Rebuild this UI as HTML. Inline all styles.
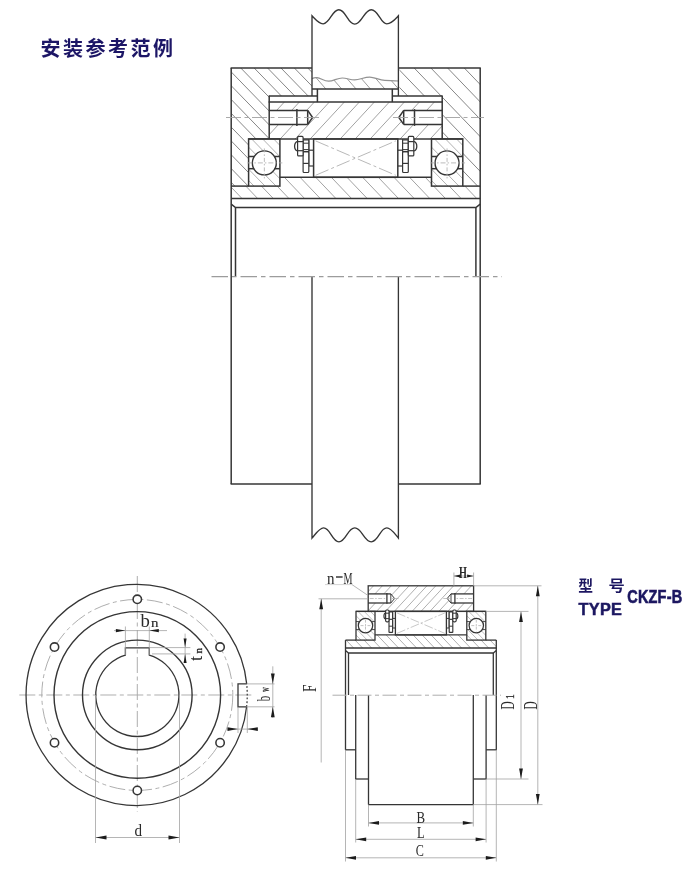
<!DOCTYPE html>
<html lang="zh"><head><meta charset="utf-8"><title>CKZF-B 安装参考范例</title>
<style>
html,body{margin:0;padding:0;background:#fff;}
body{width:700px;height:885px;overflow:hidden;font-family:"Liberation Sans",sans-serif;}
svg{display:block;}
.sr{position:absolute;left:-9999px;top:0;width:1px;height:1px;overflow:hidden;}
</style></head><body>
<h1 class="sr">安装参考范例</h1><p class="sr">型 号 TYPE CKZF-B</p>
<svg width="700" height="885" viewBox="0 0 700 885">
<rect width="700" height="885" fill="#ffffff"/>
<defs><filter id="soft" x="0" y="0" width="700" height="885" filterUnits="userSpaceOnUse"><feGaussianBlur stdDeviation="0.42"/></filter><clipPath id="c1"><path d="M231.2,68.1 L312,68.1 L312,96.1 L269.2,96.1 L269.2,138.9 L248.6,138.9 L248.6,186.1 L231.2,186.1 Z" clip-rule="evenodd"/></clipPath><clipPath id="c2"><path d="M480.2,68.1 L399.4,68.1 L399.4,96.1 L442.2,96.1 L442.2,138.9 L462.8,138.9 L462.8,186.1 L480.2,186.1 Z" clip-rule="evenodd"/></clipPath><clipPath id="c3"><path d="M269.2,102.1 L442.2,102.1 L442.2,138.9 L269.2,138.9 Z M269.2,110.4 L307.7,110.4 L312.6,117.5 L307.7,124.4 L269.2,124.4 Z M442.2,110.4 L403.7,110.4 L398.8,117.5 L403.7,124.4 L442.2,124.4 Z" clip-rule="evenodd"/></clipPath><clipPath id="c4"><path d="M231.2,186.1 L279.9,186.1 L279.9,177.3 L431.5,177.3 L431.5,186.1 L480.2,186.1 L480.2,198.4 L231.2,198.4 Z" clip-rule="evenodd"/></clipPath><clipPath id="c5"><path d="M312,78.6 C314,77.6 315.5,77.4 317,77.6 C321,78.2 324,81.2 328.6,81.2 C333.5,81.2 337,78 342.3,78 C347,78 350,79.9 354.6,79.9 C360,79.9 364,77.1 369.7,77.1 C375,77.1 379,80.3 384.8,80.3 C389,80.3 393,81 398.4,81 L398.4,88.9 L312,88.9 Z"/></clipPath><clipPath id="c6"><path d="M248.6,138.9 L279.9,138.9 L279.9,156.5 L248.6,156.5 Z M252.35,162.9 a12.0,12.0 0 1,0 24.0,0 a12.0,12.0 0 1,0 -24.0,0 Z" clip-rule="evenodd"/></clipPath><clipPath id="c7"><path d="M248.6,168.7 L279.9,168.7 L279.9,186.1 L248.6,186.1 Z M252.35,162.9 a12.0,12.0 0 1,0 24.0,0 a12.0,12.0 0 1,0 -24.0,0 Z" clip-rule="evenodd"/></clipPath><clipPath id="c8"><path d="M431.5,138.9 L462.8,138.9 L462.8,156.5 L431.5,156.5 Z M435.05,162.9 a12.0,12.0 0 1,0 24.0,0 a12.0,12.0 0 1,0 -24.0,0 Z" clip-rule="evenodd"/></clipPath><clipPath id="c9"><path d="M431.5,168.7 L462.8,168.7 L462.8,186.1 L431.5,186.1 Z M435.05,162.9 a12.0,12.0 0 1,0 24.0,0 a12.0,12.0 0 1,0 -24.0,0 Z" clip-rule="evenodd"/></clipPath><clipPath id="c10"><path d="M368.2,585.8 L473.6,585.8 L473.6,611.4 L368.2,611.4 Z M368.2,593.9 L390.8,593.9 L394.6,598.5 L390.8,603 L368.2,603 Z M473.6,593.9 L451,593.9 L447.2,598.5 L451,603 L473.6,603 Z" clip-rule="evenodd"/></clipPath><clipPath id="c11"><path d="M345.5,640.1 L375,640.1 L375,634.9 L466.8,634.9 L466.8,640.1 L496.3,640.1 L496.3,648 L345.5,648 Z" clip-rule="evenodd"/></clipPath><clipPath id="c12"><path d="M356,611.4 L375,611.4 L375,621.6 L356,621.6 Z M358.3,625.6 a7.2,7.2 0 1,0 14.4,0 a7.2,7.2 0 1,0 -14.4,0 Z" clip-rule="evenodd"/></clipPath><clipPath id="c13"><path d="M356,629.6 L375,629.6 L375,640.1 L356,640.1 Z M358.3,625.6 a7.2,7.2 0 1,0 14.4,0 a7.2,7.2 0 1,0 -14.4,0 Z" clip-rule="evenodd"/></clipPath><clipPath id="c14"><path d="M466.8,611.4 L485.8,611.4 L485.8,621.6 L466.8,621.6 Z M469.1,625.6 a7.2,7.2 0 1,0 14.4,0 a7.2,7.2 0 1,0 -14.4,0 Z" clip-rule="evenodd"/></clipPath><clipPath id="c15"><path d="M466.8,629.6 L485.8,629.6 L485.8,640.1 L466.8,640.1 Z M469.1,625.6 a7.2,7.2 0 1,0 14.4,0 a7.2,7.2 0 1,0 -14.4,0 Z" clip-rule="evenodd"/></clipPath></defs>
<g stroke-linecap="butt" stroke-linejoin="miter" filter="url(#soft)">
<path clip-path="url(#c1)" d="M119.33,67.1L235.83,187.1M132.73,67.1L249.23,187.1M146.13,67.1L262.63,187.1M159.53,67.1L276.03,187.1M172.93,67.1L289.43,187.1M186.33,67.1L302.83,187.1M199.73,67.1L316.23,187.1M213.13,67.1L329.63,187.1M226.53,67.1L343.03,187.1M239.93,67.1L356.43,187.1M253.33,67.1L369.83,187.1M266.73,67.1L383.23,187.1M280.13,67.1L396.63,187.1M293.53,67.1L410.03,187.1M306.93,67.1L423.43,187.1" stroke="#787878" stroke-width="0.9" fill="none"/>
<path clip-path="url(#c2)" d="M296.44,67.1L411.82,187.1M313.14,67.1L428.52,187.1M329.84,67.1L445.22,187.1M346.54,67.1L461.92,187.1M363.24,67.1L478.62,187.1M379.94,67.1L495.32,187.1M396.64,67.1L512.02,187.1M413.34,67.1L528.72,187.1M430.04,67.1L545.42,187.1M446.74,67.1L562.12,187.1M463.44,67.1L578.82,187.1M480.14,67.1L595.52,187.1" stroke="#787878" stroke-width="0.9" fill="none"/>
<path clip-path="url(#c3)" d="M270.23,101.1L234.3,139.9M285.23,101.1L249.3,139.9M300.23,101.1L264.3,139.9M315.23,101.1L279.3,139.9M330.23,101.1L294.3,139.9M345.23,101.1L309.3,139.9M360.23,101.1L324.3,139.9M375.23,101.1L339.3,139.9M390.23,101.1L354.3,139.9M405.23,101.1L369.3,139.9M420.23,101.1L384.3,139.9M435.23,101.1L399.3,139.9M450.23,101.1L414.3,139.9M465.23,101.1L429.3,139.9" stroke="#a2a2a2" stroke-width="1.0" fill="none"/>
<path clip-path="url(#c4)" d="M220.85,176.3L242.85,199.4M236.5,176.3L258.5,199.4M252.15,176.3L274.15,199.4M267.8,176.3L289.8,199.4M283.45,176.3L305.45,199.4M299.1,176.3L321.1,199.4M314.75,176.3L336.75,199.4M330.4,176.3L352.4,199.4M346.05,176.3L368.05,199.4M361.7,176.3L383.7,199.4M377.35,176.3L399.35,199.4M393,176.3L415,199.4M408.65,176.3L430.65,199.4M424.3,176.3L446.3,199.4M439.95,176.3L461.95,199.4M455.6,176.3L477.6,199.4M471.25,176.3L493.25,199.4" stroke="#a2a2a2" stroke-width="1.0" fill="none"/>
<path clip-path="url(#c5)" d="M299.33,74.9L311.5,88.9M313.63,74.9L325.8,88.9M329.43,74.9L341.6,88.9M343.83,74.9L356,88.9M358.23,74.9L370.4,88.9M372.63,74.9L384.8,88.9M386.33,74.9L398.5,88.9M399.83,74.9L412,88.9" stroke="#9c9c9c" stroke-width="1.0" fill="none"/>
<path d="M312,78.6 C314,77.6 315.5,77.4 317,77.6 C321,78.2 324,81.2 328.6,81.2 C333.5,81.2 337,78 342.3,78 C347,78 350,79.9 354.6,79.9 C360,79.9 364,77.1 369.7,77.1 C375,77.1 379,80.3 384.8,80.3 C389,80.3 393,81 398.4,81" stroke="#929292" stroke-width="1.2" fill="none"/>
<path clip-path="url(#c6)" d="M228.63,137.9L247.66,157.5M239.63,137.9L258.66,157.5M250.63,137.9L269.66,157.5M261.63,137.9L280.66,157.5M272.63,137.9L291.66,157.5" stroke="#a8a8a8" stroke-width="0.9" fill="none"/>
<path clip-path="url(#c7)" d="M236.19,167.7L255.02,187.1M247.19,167.7L266.02,187.1M258.19,167.7L277.02,187.1M269.19,167.7L288.02,187.1M280.19,167.7L299.02,187.1" stroke="#a8a8a8" stroke-width="0.9" fill="none"/>
<rect x="248.6" y="138.9" width="31.3" height="47.2" stroke="#363636" stroke-width="1.5" fill="none"/>
<circle cx="264.35" cy="162.9" r="12" stroke="#363636" stroke-width="1.4" fill="#fff"/>
<line x1="248.6" y1="156.5" x2="254.2" y2="156.5" stroke="#363636" stroke-width="1.5"/>
<line x1="274.5" y1="156.5" x2="279.9" y2="156.5" stroke="#363636" stroke-width="1.5"/>
<line x1="248.6" y1="168.7" x2="254.2" y2="168.7" stroke="#363636" stroke-width="1.5"/>
<line x1="274.5" y1="168.7" x2="279.9" y2="168.7" stroke="#363636" stroke-width="1.5"/>
<line x1="247.35" y1="162.9" x2="282.35" y2="162.9" stroke="#aaa" stroke-width="0.8" stroke-dasharray="5 2 1.5 2"/>
<line x1="264.35" y1="148.4" x2="264.35" y2="178.4" stroke="#aaa" stroke-width="0.8" stroke-dasharray="4 2 1.5 2"/>
<path clip-path="url(#c8)" d="M411.53,137.9L430.56,157.5M422.53,137.9L441.56,157.5M433.53,137.9L452.56,157.5M444.53,137.9L463.56,157.5M455.53,137.9L474.56,157.5" stroke="#a8a8a8" stroke-width="0.9" fill="none"/>
<path clip-path="url(#c9)" d="M419.09,167.7L437.92,187.1M430.09,167.7L448.92,187.1M441.09,167.7L459.92,187.1M452.09,167.7L470.92,187.1M463.09,167.7L481.92,187.1" stroke="#a8a8a8" stroke-width="0.9" fill="none"/>
<rect x="431.5" y="138.9" width="31.3" height="47.2" stroke="#363636" stroke-width="1.5" fill="none"/>
<circle cx="447.05" cy="162.9" r="12" stroke="#363636" stroke-width="1.4" fill="#fff"/>
<line x1="431.5" y1="156.5" x2="436.9" y2="156.5" stroke="#363636" stroke-width="1.5"/>
<line x1="457.2" y1="156.5" x2="462.8" y2="156.5" stroke="#363636" stroke-width="1.5"/>
<line x1="431.5" y1="168.7" x2="436.9" y2="168.7" stroke="#363636" stroke-width="1.5"/>
<line x1="457.2" y1="168.7" x2="462.8" y2="168.7" stroke="#363636" stroke-width="1.5"/>
<line x1="430.05" y1="162.9" x2="465.05" y2="162.9" stroke="#aaa" stroke-width="0.8" stroke-dasharray="5 2 1.5 2"/>
<line x1="447.05" y1="148.4" x2="447.05" y2="178.4" stroke="#aaa" stroke-width="0.8" stroke-dasharray="4 2 1.5 2"/>
<line x1="231.2" y1="68.1" x2="231.2" y2="484" stroke="#363636" stroke-width="1.5"/>
<line x1="480.2" y1="68.1" x2="480.2" y2="484" stroke="#363636" stroke-width="1.5"/>
<line x1="230.6" y1="68.1" x2="312" y2="68.1" stroke="#363636" stroke-width="1.5"/>
<line x1="398.4" y1="68.1" x2="480.8" y2="68.1" stroke="#363636" stroke-width="1.5"/>
<line x1="230.6" y1="484" x2="312" y2="484" stroke="#363636" stroke-width="1.5"/>
<line x1="398.4" y1="484" x2="480.8" y2="484" stroke="#363636" stroke-width="1.5"/>
<path d="M312.0,96.1 L312.0,15.8 C316,20 319,24 323.2,23.8 C330,23.5 332,9.7 338.8,9.7 C346,9.7 347.5,24.1 354.8,24.1 C362,24.1 364,9.7 371.3,9.7 C378.5,9.7 380.5,23.8 386.8,23.8 C391.5,23.8 394.5,20 398.4,15.8 L398.4,96.1" stroke="#363636" stroke-width="1.35" fill="none"/>
<path d="M312.0,276.4 L312.0,538.1 C316,533.5 319.5,527.9 323.6,527.9 C330.5,527.9 332,541.8 338.9,541.8 C346,541.8 347.5,527.9 354.8,527.9 C362,527.9 364,541.8 371.3,541.8 C378.5,541.8 380,527.9 386.8,527.9 C391,527.9 394.5,533.5 398.4,538.1 L398.4,276.4" stroke="#363636" stroke-width="1.35" fill="none"/>
<line x1="312" y1="88.9" x2="398.4" y2="88.9" stroke="#363636" stroke-width="1.5"/>
<line x1="317.4" y1="88.9" x2="317.4" y2="102.1" stroke="#363636" stroke-width="1.5"/>
<line x1="392.3" y1="88.9" x2="392.3" y2="102.1" stroke="#363636" stroke-width="1.5"/>
<line x1="269.2" y1="96.1" x2="317.4" y2="96.1" stroke="#363636" stroke-width="1.5"/>
<line x1="392.3" y1="96.1" x2="442.2" y2="96.1" stroke="#363636" stroke-width="1.5"/>
<line x1="268.6" y1="102.1" x2="442.8" y2="102.1" stroke="#363636" stroke-width="1.5"/>
<line x1="269.2" y1="95.5" x2="269.2" y2="138.9" stroke="#363636" stroke-width="1.5"/>
<line x1="442.2" y1="95.5" x2="442.2" y2="138.9" stroke="#363636" stroke-width="1.5"/>
<line x1="248.6" y1="138.9" x2="462.8" y2="138.9" stroke="#363636" stroke-width="1.5"/>
<line x1="269.2" y1="110.4" x2="307.7" y2="110.4" stroke="#363636" stroke-width="1.5"/>
<line x1="269.2" y1="124.4" x2="307.7" y2="124.4" stroke="#363636" stroke-width="1.5"/>
<line x1="296.9" y1="109.1" x2="296.9" y2="125.9" stroke="#363636" stroke-width="1.5"/>
<line x1="307.7" y1="110.4" x2="307.7" y2="124.4" stroke="#363636" stroke-width="1.5"/>
<path d="M307.7,110.4 L312.6,117.5 L307.7,124.4" stroke="#363636" stroke-width="1.5" fill="none"/>
<line x1="442.2" y1="110.4" x2="403.7" y2="110.4" stroke="#363636" stroke-width="1.5"/>
<line x1="442.2" y1="124.4" x2="403.7" y2="124.4" stroke="#363636" stroke-width="1.5"/>
<line x1="414.5" y1="109.1" x2="414.5" y2="125.9" stroke="#363636" stroke-width="1.5"/>
<line x1="403.7" y1="110.4" x2="403.7" y2="124.4" stroke="#363636" stroke-width="1.5"/>
<path d="M403.7,110.4 L398.8,117.5 L403.7,124.4" stroke="#363636" stroke-width="1.5" fill="none"/>
<line x1="226" y1="117.5" x2="319" y2="117.5" stroke="#a0a0a0" stroke-width="0.9" stroke-dasharray="15 3.5 4 3.5"/>
<line x1="393" y1="117.5" x2="484" y2="117.5" stroke="#a0a0a0" stroke-width="0.9" stroke-dasharray="15 3.5 4 3.5"/>
<rect x="313.6" y="138.9" width="84.2" height="38.4" stroke="#363636" stroke-width="1.5" fill="none"/>
<line x1="315.6" y1="140.9" x2="395.8" y2="175.3" stroke="#a6a6a6" stroke-width="0.8" stroke-dasharray="14 3 3 3"/>
<line x1="315.6" y1="175.3" x2="395.8" y2="140.9" stroke="#a6a6a6" stroke-width="0.8" stroke-dasharray="14 3 3 3"/>
<line x1="279.9" y1="177.3" x2="431.5" y2="177.3" stroke="#363636" stroke-width="1.5"/>
<line x1="231.2" y1="186.1" x2="248.6" y2="186.1" stroke="#363636" stroke-width="1.5"/>
<line x1="462.8" y1="186.1" x2="480.2" y2="186.1" stroke="#363636" stroke-width="1.5"/>
<line x1="231.2" y1="198.4" x2="480.2" y2="198.4" stroke="#363636" stroke-width="1.5"/>
<path d="M231.2,204.1 L235.5,207.6 L475.9,207.6 L480.2,204.1" stroke="#363636" stroke-width="1.5" fill="none"/>
<line x1="235.5" y1="207.6" x2="235.5" y2="276.4" stroke="#363636" stroke-width="1.5"/>
<line x1="475.9" y1="207.6" x2="475.9" y2="276.4" stroke="#363636" stroke-width="1.5"/>
<line x1="308.8" y1="138.9" x2="308.8" y2="166" stroke="#363636" stroke-width="1.2"/>
<line x1="308.8" y1="150.2" x2="313.6" y2="150.2" stroke="#363636" stroke-width="1.2"/>
<line x1="308.8" y1="166" x2="313.6" y2="166" stroke="#363636" stroke-width="1.2"/>
<rect x="303.1" y="151.7" width="5.7" height="20.8" rx="1.0" stroke="#363636" stroke-width="1.2" fill="#fff"/>
<line x1="303.1" y1="163.4" x2="308.8" y2="163.4" stroke="#363636" stroke-width="1.2"/>
<rect x="303.1" y="139.8" width="5.7" height="11.9" rx="0.6" stroke="#363636" stroke-width="1.2" fill="#fff"/>
<line x1="303.1" y1="143.2" x2="308.8" y2="143.2" stroke="#363636" stroke-width="1.0"/>
<line x1="303.1" y1="149.6" x2="308.8" y2="149.6" stroke="#363636" stroke-width="1.0"/>
<rect x="297.6" y="136.4" width="5.5" height="19.5" rx="1.0" stroke="#363636" stroke-width="1.2" fill="#fff"/>
<line x1="297.6" y1="141.6" x2="303.1" y2="141.6" stroke="#363636" stroke-width="1.2"/>
<line x1="297.6" y1="150.7" x2="303.1" y2="150.7" stroke="#363636" stroke-width="1.2"/>
<path d="M297.6,141.3 C293.6,142.6 293.6,149.8 297.6,151.0" stroke="#363636" stroke-width="1.3" fill="none"/>
<line x1="402.6" y1="138.9" x2="402.6" y2="166" stroke="#363636" stroke-width="1.2"/>
<line x1="402.6" y1="150.2" x2="397.8" y2="150.2" stroke="#363636" stroke-width="1.2"/>
<line x1="402.6" y1="166" x2="397.8" y2="166" stroke="#363636" stroke-width="1.2"/>
<rect x="402.6" y="151.7" width="5.7" height="20.8" rx="1.0" stroke="#363636" stroke-width="1.2" fill="#fff"/>
<line x1="408.3" y1="163.4" x2="402.6" y2="163.4" stroke="#363636" stroke-width="1.2"/>
<rect x="402.6" y="139.8" width="5.7" height="11.9" rx="0.6" stroke="#363636" stroke-width="1.2" fill="#fff"/>
<line x1="408.3" y1="143.2" x2="402.6" y2="143.2" stroke="#363636" stroke-width="1.0"/>
<line x1="408.3" y1="149.6" x2="402.6" y2="149.6" stroke="#363636" stroke-width="1.0"/>
<rect x="408.3" y="136.4" width="5.5" height="19.5" rx="1.0" stroke="#363636" stroke-width="1.2" fill="#fff"/>
<line x1="413.8" y1="141.6" x2="408.3" y2="141.6" stroke="#363636" stroke-width="1.2"/>
<line x1="413.8" y1="150.7" x2="408.3" y2="150.7" stroke="#363636" stroke-width="1.2"/>
<path d="M413.8,141.3 C417.8,142.6 417.8,149.8 413.8,151.0" stroke="#363636" stroke-width="1.3" fill="none"/>
<line x1="211.5" y1="276.6" x2="502" y2="276.6" stroke="#9c9c9c" stroke-width="1.2" stroke-dasharray="16.5 4 4.5 4"/>
<line x1="19.3" y1="695" x2="252" y2="695" stroke="#aaaaaa" stroke-width="0.95" stroke-dasharray="16 3.5 4 3.5"/>
<line x1="137.3" y1="576" x2="137.3" y2="812" stroke="#aaaaaa" stroke-width="0.95" stroke-dasharray="16 3.5 4 3.5"/>
<circle cx="137.3" cy="694.9" r="95.5" stroke="#aaaaaa" stroke-width="0.95" fill="none" stroke-dasharray="16 3.5 4 3.5"/>
<path d="M246.61,706.8 A110.6,110.6 0 1,1 246.7,683.9" stroke="#363636" stroke-width="1.3" fill="none"/>
<path d="M246.7,683.9 L238,683.9 L238,706.8 L246.61,706.8" stroke="#363636" stroke-width="1.3" fill="none"/>
<path d="M246.7,683.9 A110.6,110.6 0 0,1 246.61,706.8" stroke="#444" stroke-width="1.3" fill="none" stroke-dasharray="1.8 2" stroke-dashoffset="-2.2"/>
<circle cx="137.3" cy="694.9" r="83.3" stroke="#363636" stroke-width="1.4" fill="none"/>
<circle cx="137.3" cy="694.9" r="54.8" stroke="#363636" stroke-width="1.4" fill="none"/>
<path d="M125.4,655.04 L125.4,647.8 L149.3,647.8 L149.3,655.04 A41.6,41.6 0 1,1 125.4,655.04 Z" stroke="#363636" stroke-width="1.3" fill="none"/>
<circle cx="137.3" cy="599.3" r="4.2" stroke="#363636" stroke-width="1.55" fill="#fff"/>
<circle cx="54.51" cy="647.1" r="4.2" stroke="#363636" stroke-width="1.55" fill="#fff"/>
<circle cx="54.51" cy="742.7" r="4.2" stroke="#363636" stroke-width="1.55" fill="#fff"/>
<circle cx="137.3" cy="790.5" r="4.2" stroke="#363636" stroke-width="1.55" fill="#fff"/>
<circle cx="220.09" cy="742.7" r="4.2" stroke="#363636" stroke-width="1.55" fill="#fff"/>
<circle cx="220.09" cy="647.1" r="4.2" stroke="#363636" stroke-width="1.55" fill="#fff"/>
<line x1="125.4" y1="655.04" x2="125.4" y2="626.5" stroke="#a2a2a2" stroke-width="0.8"/>
<line x1="149.3" y1="655.04" x2="149.3" y2="626.5" stroke="#a2a2a2" stroke-width="0.8"/>
<line x1="114" y1="630.6" x2="167" y2="630.6" stroke="#a2a2a2" stroke-width="0.8"/>
<polygon points="125.4,630.6 115.9,632.3 115.9,628.9" fill="#1c1c1c"/>
<polygon points="149.3,630.6 158.8,628.9 158.8,632.3" fill="#1c1c1c"/>
<line x1="149.3" y1="647.6" x2="190.4" y2="647.6" stroke="#a2a2a2" stroke-width="0.8"/>
<line x1="152" y1="653.9" x2="190.4" y2="653.9" stroke="#a2a2a2" stroke-width="0.8"/>
<line x1="185.1" y1="633.6" x2="185.1" y2="663" stroke="#a2a2a2" stroke-width="0.8"/>
<polygon points="185.1,647.6 183.6,638.6 186.6,638.6" fill="#1c1c1c"/>
<polygon points="185.1,653.9 186.6,662.9 183.6,662.9" fill="#1c1c1c"/>
<line x1="246.7" y1="683.9" x2="274.5" y2="683.9" stroke="#a2a2a2" stroke-width="0.8"/>
<line x1="246.61" y1="706.8" x2="274.5" y2="706.8" stroke="#a2a2a2" stroke-width="0.8"/>
<line x1="272.8" y1="666.3" x2="272.8" y2="718" stroke="#a2a2a2" stroke-width="0.8"/>
<polygon points="272.8,683.9 270.9,673.4 274.7,673.4" fill="#1c1c1c"/>
<polygon points="272.8,706.8 274.7,717.3 270.9,717.3" fill="#1c1c1c"/>
<line x1="238" y1="706.8" x2="238" y2="733" stroke="#a2a2a2" stroke-width="0.8"/>
<line x1="247.3" y1="706.8" x2="247.3" y2="733" stroke="#a2a2a2" stroke-width="0.8"/>
<line x1="227" y1="729.1" x2="258" y2="729.1" stroke="#a2a2a2" stroke-width="0.8"/>
<polygon points="238,729.1 227.5,731 227.5,727.2" fill="#1c1c1c"/>
<polygon points="247.3,729.1 257.8,727.2 257.8,731" fill="#1c1c1c"/>
<line x1="95.5" y1="694.9" x2="95.5" y2="843" stroke="#a2a2a2" stroke-width="0.8"/>
<line x1="179.5" y1="694.9" x2="179.5" y2="843" stroke="#a2a2a2" stroke-width="0.8"/>
<line x1="95.5" y1="837.5" x2="179.5" y2="837.5" stroke="#a2a2a2" stroke-width="0.8"/>
<polygon points="95.5,837.5 106.5,835.6 106.5,839.4" fill="#1c1c1c"/>
<polygon points="179.5,837.5 168.5,839.4 168.5,835.6" fill="#1c1c1c"/>
<path clip-path="url(#c10)" d="M374.43,584.8L348.87,612.4M383.33,584.8L357.77,612.4M392.23,584.8L366.67,612.4M401.13,584.8L375.57,612.4M410.03,584.8L384.47,612.4M418.93,584.8L393.37,612.4M427.83,584.8L402.27,612.4M436.73,584.8L411.17,612.4M445.63,584.8L420.07,612.4M454.53,584.8L428.97,612.4M463.43,584.8L437.87,612.4M472.33,584.8L446.77,612.4M481.23,584.8L455.67,612.4M490.13,584.8L464.57,612.4M499.03,584.8L473.47,612.4" stroke="#b0b0b0" stroke-width="1.0" fill="none"/>
<path clip-path="url(#c11)" d="M331.17,633.9L345.55,649M340.17,633.9L354.55,649M349.17,633.9L363.55,649M358.17,633.9L372.55,649M367.17,633.9L381.55,649M376.17,633.9L390.55,649M385.17,633.9L399.55,649M394.17,633.9L408.55,649M403.17,633.9L417.55,649M412.17,633.9L426.55,649M421.17,633.9L435.55,649M430.17,633.9L444.55,649M439.17,633.9L453.55,649M448.17,633.9L462.55,649M457.17,633.9L471.55,649M466.17,633.9L480.55,649M475.17,633.9L489.55,649M484.17,633.9L498.55,649M493.17,633.9L507.55,649" stroke="#b0b0b0" stroke-width="1.0" fill="none"/>
<path clip-path="url(#c12)" d="M344.63,610.4L356.47,622.6M350.83,610.4L362.67,622.6M357.03,610.4L368.87,622.6M363.23,610.4L375.07,622.6M369.43,610.4L381.27,622.6M375.63,610.4L387.47,622.6" stroke="#b8b8b8" stroke-width="0.9" fill="none"/>
<path clip-path="url(#c13)" d="M343.63,628.6L355.77,641.1M349.83,628.6L361.97,641.1M356.03,628.6L368.17,641.1M362.23,628.6L374.37,641.1M368.43,628.6L380.57,641.1M374.63,628.6L386.77,641.1" stroke="#b8b8b8" stroke-width="0.9" fill="none"/>
<rect x="356" y="611.4" width="19" height="28.7" stroke="#363636" stroke-width="1.3" fill="none"/>
<circle cx="365.5" cy="625.6" r="7.2" stroke="#363636" stroke-width="1.25" fill="#fff"/>
<line x1="356" y1="621.6" x2="359.51" y2="621.6" stroke="#363636" stroke-width="0.9"/>
<line x1="371.49" y1="621.6" x2="375" y2="621.6" stroke="#363636" stroke-width="0.9"/>
<line x1="356" y1="629.6" x2="359.51" y2="629.6" stroke="#363636" stroke-width="0.9"/>
<line x1="371.49" y1="629.6" x2="375" y2="629.6" stroke="#363636" stroke-width="0.9"/>
<line x1="360.5" y1="625.6" x2="370.5" y2="625.6" stroke="#aaa" stroke-width="0.7" stroke-dasharray="3 1.5 1 1.5"/>
<line x1="365.5" y1="619.6" x2="365.5" y2="631.6" stroke="#aaa" stroke-width="0.7" stroke-dasharray="3 1.5 1 1.5"/>
<path clip-path="url(#c14)" d="M455.43,610.4L467.27,622.6M461.63,610.4L473.47,622.6M467.83,610.4L479.67,622.6M474.03,610.4L485.87,622.6M480.23,610.4L492.07,622.6M486.43,610.4L498.27,622.6" stroke="#b8b8b8" stroke-width="0.9" fill="none"/>
<path clip-path="url(#c15)" d="M454.43,628.6L466.57,641.1M460.63,628.6L472.77,641.1M466.83,628.6L478.97,641.1M473.03,628.6L485.17,641.1M479.23,628.6L491.37,641.1M485.43,628.6L497.57,641.1" stroke="#b8b8b8" stroke-width="0.9" fill="none"/>
<rect x="466.8" y="611.4" width="19" height="28.7" stroke="#363636" stroke-width="1.3" fill="none"/>
<circle cx="476.3" cy="625.6" r="7.2" stroke="#363636" stroke-width="1.25" fill="#fff"/>
<line x1="466.8" y1="621.6" x2="470.31" y2="621.6" stroke="#363636" stroke-width="0.9"/>
<line x1="482.29" y1="621.6" x2="485.8" y2="621.6" stroke="#363636" stroke-width="0.9"/>
<line x1="466.8" y1="629.6" x2="470.31" y2="629.6" stroke="#363636" stroke-width="0.9"/>
<line x1="482.29" y1="629.6" x2="485.8" y2="629.6" stroke="#363636" stroke-width="0.9"/>
<line x1="471.3" y1="625.6" x2="481.3" y2="625.6" stroke="#aaa" stroke-width="0.7" stroke-dasharray="3 1.5 1 1.5"/>
<line x1="476.3" y1="619.6" x2="476.3" y2="631.6" stroke="#aaa" stroke-width="0.7" stroke-dasharray="3 1.5 1 1.5"/>
<rect x="368.2" y="585.8" width="105.4" height="25.6" stroke="#363636" stroke-width="1.3" fill="none"/>
<line x1="356" y1="611.4" x2="485.8" y2="611.4" stroke="#363636" stroke-width="1.3"/>
<line x1="368.2" y1="593.9" x2="390.8" y2="593.9" stroke="#363636" stroke-width="1.3"/>
<line x1="368.2" y1="603" x2="390.8" y2="603" stroke="#363636" stroke-width="1.3"/>
<line x1="386.9" y1="593.1" x2="386.9" y2="603.8" stroke="#363636" stroke-width="1.3"/>
<line x1="390.8" y1="593.9" x2="390.8" y2="603" stroke="#363636" stroke-width="0.9"/>
<path d="M390.8,593.9 L394.6,598.5 L390.8,603" stroke="#363636" stroke-width="1.0" fill="none"/>
<line x1="369.7" y1="598.5" x2="386" y2="598.5" stroke="#aaa" stroke-width="0.7" stroke-dasharray="4 1.5 1.5 1.5"/>
<line x1="392" y1="598.5" x2="398.5" y2="598.5" stroke="#aaa" stroke-width="0.7"/>
<line x1="473.6" y1="593.9" x2="451" y2="593.9" stroke="#363636" stroke-width="1.3"/>
<line x1="473.6" y1="603" x2="451" y2="603" stroke="#363636" stroke-width="1.3"/>
<line x1="454.9" y1="593.1" x2="454.9" y2="603.8" stroke="#363636" stroke-width="1.3"/>
<line x1="451" y1="593.9" x2="451" y2="603" stroke="#363636" stroke-width="0.9"/>
<path d="M451,593.9 L447.2,598.5 L451,603" stroke="#363636" stroke-width="1.0" fill="none"/>
<line x1="472.1" y1="598.5" x2="455.8" y2="598.5" stroke="#aaa" stroke-width="0.7" stroke-dasharray="4 1.5 1.5 1.5"/>
<line x1="449.8" y1="598.5" x2="443.3" y2="598.5" stroke="#aaa" stroke-width="0.7"/>
<rect x="395.4" y="611.4" width="51" height="23.5" stroke="#363636" stroke-width="1.3" fill="none"/>
<line x1="396.9" y1="612.9" x2="444.9" y2="633.4" stroke="#b0b0b0" stroke-width="0.7" stroke-dasharray="9 2 2 2"/>
<line x1="396.9" y1="633.4" x2="444.9" y2="612.9" stroke="#b0b0b0" stroke-width="0.7" stroke-dasharray="9 2 2 2"/>
<line x1="392.6" y1="611.4" x2="392.6" y2="628" stroke="#363636" stroke-width="1.1"/>
<line x1="392.6" y1="618.4" x2="395.4" y2="618.4" stroke="#363636" stroke-width="1.0"/>
<line x1="392.6" y1="628" x2="395.4" y2="628" stroke="#363636" stroke-width="1.0"/>
<rect x="389" y="619.2" width="3.6" height="13.2" rx="0.5" stroke="#363636" stroke-width="1.15" fill="#fff"/>
<line x1="389" y1="626.2" x2="392.6" y2="626.2" stroke="#363636" stroke-width="1.0"/>
<rect x="389" y="612" width="3.6" height="7.2" rx="0.5" stroke="#363636" stroke-width="1.15" fill="#fff"/>
<rect x="385.6" y="610" width="3.4" height="11.8" rx="1.2" stroke="#363636" stroke-width="1.2" fill="#fff"/>
<line x1="385.6" y1="613.2" x2="389" y2="613.2" stroke="#363636" stroke-width="1.0"/>
<line x1="385.6" y1="618.6" x2="389" y2="618.6" stroke="#363636" stroke-width="1.0"/>
<path d="M385.6,613 C383.4,613.4 383.4,618.6 385.6,619" stroke="#363636" stroke-width="1.2" fill="none"/>
<line x1="449.2" y1="611.4" x2="449.2" y2="628" stroke="#363636" stroke-width="1.1"/>
<line x1="449.2" y1="618.4" x2="446.4" y2="618.4" stroke="#363636" stroke-width="1.0"/>
<line x1="449.2" y1="628" x2="446.4" y2="628" stroke="#363636" stroke-width="1.0"/>
<rect x="449.2" y="619.2" width="3.6" height="13.2" rx="0.5" stroke="#363636" stroke-width="1.15" fill="#fff"/>
<line x1="452.8" y1="626.2" x2="449.2" y2="626.2" stroke="#363636" stroke-width="1.0"/>
<rect x="449.2" y="612" width="3.6" height="7.2" rx="0.5" stroke="#363636" stroke-width="1.15" fill="#fff"/>
<rect x="452.8" y="610" width="3.4" height="11.8" rx="1.2" stroke="#363636" stroke-width="1.2" fill="#fff"/>
<line x1="456.2" y1="613.2" x2="452.8" y2="613.2" stroke="#363636" stroke-width="1.0"/>
<line x1="456.2" y1="618.6" x2="452.8" y2="618.6" stroke="#363636" stroke-width="1.0"/>
<path d="M456.2,613 C458.4,613.4 458.4,618.6 456.2,619" stroke="#363636" stroke-width="1.2" fill="none"/>
<line x1="375" y1="634.9" x2="466.8" y2="634.9" stroke="#363636" stroke-width="1.3"/>
<line x1="345.5" y1="640.1" x2="356" y2="640.1" stroke="#363636" stroke-width="1.3"/>
<line x1="485.8" y1="640.1" x2="496.3" y2="640.1" stroke="#363636" stroke-width="1.3"/>
<line x1="345" y1="648" x2="496.8" y2="648" stroke="#363636" stroke-width="1.3"/>
<line x1="345.5" y1="640.1" x2="345.5" y2="749.8" stroke="#363636" stroke-width="1.3"/>
<line x1="496.3" y1="640.1" x2="496.3" y2="749.8" stroke="#363636" stroke-width="1.3"/>
<path d="M345.5,650.6 L348.5,653 L493.3,653 L496.3,650.6" stroke="#363636" stroke-width="1.3" fill="none"/>
<line x1="348.5" y1="653" x2="348.5" y2="695" stroke="#363636" stroke-width="1.3"/>
<line x1="493.3" y1="653" x2="493.3" y2="695" stroke="#363636" stroke-width="1.3"/>
<line x1="345" y1="749.8" x2="355.7" y2="749.8" stroke="#363636" stroke-width="1.3"/>
<line x1="486.1" y1="749.8" x2="496.8" y2="749.8" stroke="#363636" stroke-width="1.3"/>
<line x1="355.7" y1="695" x2="355.7" y2="779" stroke="#363636" stroke-width="1.3"/>
<line x1="486.1" y1="695" x2="486.1" y2="779" stroke="#363636" stroke-width="1.3"/>
<line x1="355.2" y1="779" x2="368.5" y2="779" stroke="#363636" stroke-width="1.3"/>
<line x1="473.3" y1="779" x2="486.6" y2="779" stroke="#363636" stroke-width="1.3"/>
<line x1="368.5" y1="695" x2="368.5" y2="804.6" stroke="#363636" stroke-width="1.3"/>
<line x1="473.3" y1="695" x2="473.3" y2="804.6" stroke="#363636" stroke-width="1.3"/>
<line x1="368" y1="804.6" x2="473.8" y2="804.6" stroke="#363636" stroke-width="1.3"/>
<line x1="332.5" y1="695.2" x2="501" y2="695.2" stroke="#adadad" stroke-width="1.0" stroke-dasharray="14 3.5 4 3.5"/>
<line x1="368.5" y1="804.6" x2="368.5" y2="826.5" stroke="#a2a2a2" stroke-width="0.8"/>
<line x1="473.3" y1="804.6" x2="473.3" y2="826.5" stroke="#a2a2a2" stroke-width="0.8"/>
<line x1="355.7" y1="779" x2="355.7" y2="842.5" stroke="#a2a2a2" stroke-width="0.8"/>
<line x1="486.1" y1="779" x2="486.1" y2="842.5" stroke="#a2a2a2" stroke-width="0.8"/>
<line x1="345.5" y1="749.8" x2="345.5" y2="861.5" stroke="#a2a2a2" stroke-width="0.8"/>
<line x1="496.3" y1="749.8" x2="496.3" y2="861.5" stroke="#a2a2a2" stroke-width="0.8"/>
<line x1="368.5" y1="822.9" x2="473.3" y2="822.9" stroke="#a2a2a2" stroke-width="0.8"/>
<polygon points="368.5,822.9 379,821 379,824.8" fill="#1c1c1c"/>
<polygon points="473.3,822.9 462.8,824.8 462.8,821" fill="#1c1c1c"/>
<line x1="355.7" y1="839.3" x2="486.1" y2="839.3" stroke="#a2a2a2" stroke-width="0.8"/>
<polygon points="355.7,839.3 366.2,837.4 366.2,841.2" fill="#1c1c1c"/>
<polygon points="486.1,839.3 475.6,841.2 475.6,837.4" fill="#1c1c1c"/>
<line x1="345.5" y1="857.8" x2="496.3" y2="857.8" stroke="#a2a2a2" stroke-width="0.8"/>
<polygon points="345.5,857.8 356,855.9 356,859.7" fill="#1c1c1c"/>
<polygon points="496.3,857.8 485.8,859.7 485.8,855.9" fill="#1c1c1c"/>
<line x1="485.8" y1="611.4" x2="528.5" y2="611.4" stroke="#a2a2a2" stroke-width="0.8"/>
<line x1="486.1" y1="779" x2="528.5" y2="779" stroke="#a2a2a2" stroke-width="0.8"/>
<line x1="521" y1="611.4" x2="521" y2="779" stroke="#a2a2a2" stroke-width="0.8"/>
<polygon points="521,611.4 522.9,621.9 519.1,621.9" fill="#1c1c1c"/>
<polygon points="521,779 519.1,768.5 522.9,768.5" fill="#1c1c1c"/>
<line x1="473.6" y1="585.8" x2="541.5" y2="585.8" stroke="#a2a2a2" stroke-width="0.8"/>
<line x1="473.3" y1="804.6" x2="542.5" y2="804.6" stroke="#a2a2a2" stroke-width="0.8"/>
<line x1="537.8" y1="585.8" x2="537.8" y2="804.6" stroke="#a2a2a2" stroke-width="0.8"/>
<polygon points="537.8,585.8 539.7,596.3 535.9,596.3" fill="#1c1c1c"/>
<polygon points="537.8,804.6 535.9,794.1 539.7,794.1" fill="#1c1c1c"/>
<line x1="318.5" y1="598.8" x2="368.2" y2="598.8" stroke="#a2a2a2" stroke-width="0.8"/>
<line x1="321.2" y1="598.8" x2="321.2" y2="762.5" stroke="#a2a2a2" stroke-width="0.8"/>
<polygon points="321.2,598.8 323.1,609.3 319.3,609.3" fill="#1c1c1c"/>
<line x1="352" y1="584.6" x2="368.2" y2="595.6" stroke="#a2a2a2" stroke-width="0.8"/>
<line x1="325" y1="584.6" x2="352" y2="584.6" stroke="#c8c8c8" stroke-width="0.8"/>
<line x1="453.9" y1="572.5" x2="453.9" y2="585.8" stroke="#a2a2a2" stroke-width="0.8"/>
<line x1="473.6" y1="572.5" x2="473.6" y2="585.8" stroke="#a2a2a2" stroke-width="0.8"/>
<line x1="453.9" y1="576" x2="473.6" y2="576" stroke="#a2a2a2" stroke-width="0.8"/>
<polygon points="453.9,576.1 460.4,574.6 460.4,577.6" fill="#1c1c1c"/>
<polygon points="473.6,576.1 467.1,577.6 467.1,574.6" fill="#1c1c1c"/>
<text x="40.5" y="55.9" font-family="'Liberation Sans', 'Noto Sans CJK SC', sans-serif" font-size="20" font-weight="bold" fill="#1d1666" text-anchor="start" letter-spacing="2.5">安装参考范例</text>
<text x="578.3" y="590.6" font-family="'Liberation Sans', 'Noto Sans CJK SC', sans-serif" font-size="14.8" font-weight="bold" fill="#1b1760" text-anchor="start">型</text>
<text transform="translate(608.6 590.6) scale(1.1 1)" font-family="'Liberation Sans', 'Noto Sans CJK SC', sans-serif" font-size="14.8" font-weight="bold" fill="#1b1760" text-anchor="start">号</text>
<text stroke="#1b1760" stroke-width="0.5" transform="translate(578.6 615.2) scale(0.98 1)" font-family="'Liberation Sans', sans-serif" font-size="16.6" font-weight="bold" fill="#1b1760" text-anchor="start" letter-spacing="0.3">TYPE</text>
<text stroke="#1b1760" stroke-width="0.6" transform="translate(627.3 603.2) scale(0.825 1)" font-family="'Liberation Sans', sans-serif" font-size="17.6" font-weight="bold" fill="#1b1760" text-anchor="start" letter-spacing="0.2">CKZF-B</text>
<text transform="translate(140.4 627.4) scale(1.05 1)" font-family="'Liberation Serif', serif" font-size="17.8" font-weight="normal" fill="#2a2a2a" text-anchor="start">b</text>
<text stroke="#2a2a2a" stroke-width="0.15" transform="translate(151 627.4) scale(1.3 1)" font-family="'Liberation Serif', serif" font-size="11.5" font-weight="normal" fill="#2a2a2a" text-anchor="start">n</text>
<text transform="translate(201.8 660.9) rotate(-90) scale(1.0 1)" font-family="'Liberation Serif', serif" font-size="18" font-weight="normal" fill="#2a2a2a" text-anchor="start">t</text>
<text stroke="#2a2a2a" stroke-width="0.3" transform="translate(201.8 653.4) rotate(-90) scale(1.0 1)" font-family="'Liberation Serif', serif" font-size="11" font-weight="normal" fill="#2a2a2a" text-anchor="start">n</text>
<text transform="translate(270 701.3) rotate(-90) scale(0.6 1)" font-family="'Liberation Serif', serif" font-size="18" font-weight="normal" fill="#2a2a2a" text-anchor="start">b</text>
<text stroke="#2a2a2a" stroke-width="0.3" transform="translate(269.3 691.7) rotate(-90) scale(0.55 1)" font-family="'Liberation Serif', serif" font-size="11.5" font-weight="normal" fill="#2a2a2a" text-anchor="start">w</text>
<text transform="translate(138.3 835.7) scale(0.88 1)" font-family="'Liberation Serif', serif" font-size="17.2" font-weight="normal" fill="#2a2a2a" text-anchor="middle">d</text>
<text transform="translate(420.8 822.5) scale(0.74 1)" font-family="'Liberation Serif', serif" font-size="17.4" font-weight="normal" fill="#2a2a2a" text-anchor="middle">B</text>
<text transform="translate(420.8 837.8) scale(0.72 1)" font-family="'Liberation Serif', serif" font-size="17.4" font-weight="normal" fill="#2a2a2a" text-anchor="middle">L</text>
<text transform="translate(419.8 855.8) scale(0.7 1)" font-family="'Liberation Serif', serif" font-size="17.4" font-weight="normal" fill="#2a2a2a" text-anchor="middle">C</text>
<text transform="translate(326.9 583.6) scale(0.86 1)" font-family="'Liberation Serif', serif" font-size="17.4" font-weight="normal" fill="#2a2a2a" text-anchor="start">n</text>
<line x1="336" y1="577" x2="342.6" y2="577" stroke="#2a2a2a" stroke-width="1.4"/>
<text transform="translate(343.4 583.6) scale(0.58 1)" font-family="'Liberation Serif', serif" font-size="17.5" font-weight="normal" fill="#2a2a2a" text-anchor="start">M</text>
<text transform="translate(462.9 578.2) scale(0.6 1)" font-family="'Liberation Serif', serif" font-size="16.9" font-weight="bold" fill="#2a2a2a" text-anchor="middle">H</text>
<text transform="translate(315.7 692) rotate(-90) scale(0.69 1)" font-family="'Liberation Serif', serif" font-size="19.2" font-weight="normal" fill="#2a2a2a" text-anchor="start">F</text>
<text transform="translate(513.9 709.5) rotate(-90) scale(0.61 1)" font-family="'Liberation Serif', serif" font-size="18.6" font-weight="normal" fill="#2a2a2a" text-anchor="start">D</text>
<text stroke="#2a2a2a" stroke-width="0.3" transform="translate(513.6 699) rotate(-90) scale(0.8 1)" font-family="'Liberation Serif', serif" font-size="12" font-weight="normal" fill="#2a2a2a" text-anchor="start">1</text>
<text transform="translate(536.7 709.5) rotate(-90) scale(0.61 1)" font-family="'Liberation Serif', serif" font-size="18.6" font-weight="normal" fill="#2a2a2a" text-anchor="start">D</text>
</g>
</svg>
</body></html>
